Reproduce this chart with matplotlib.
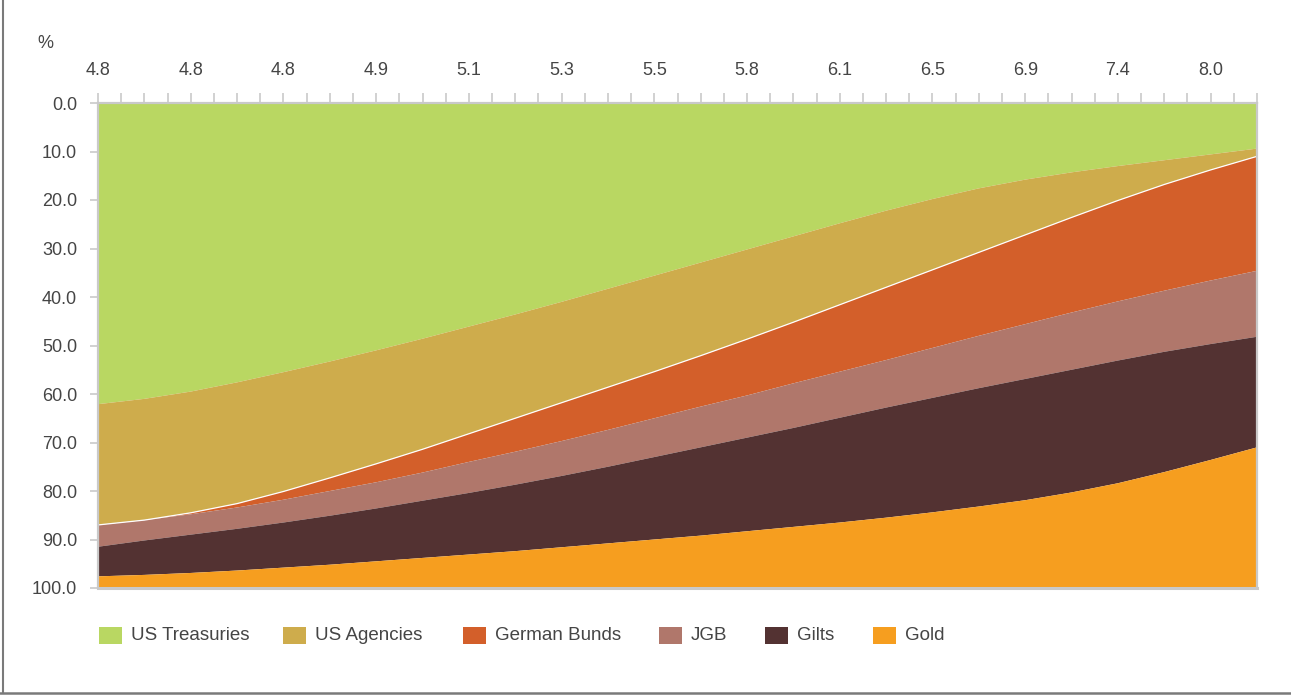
import numpy as np
import matplotlib
matplotlib.use("Agg")
import matplotlib.pyplot as plt
from matplotlib.patches import Rectangle
from matplotlib.lines import Line2D

plt.rcParams['font.family'] = ['Liberation Sans', 'DejaVu Sans']

# ---- data (portfolio weights, %) at every second point of the return axis ----
point_index = list(range(0, 51, 2))
tick_labels = ['4.8', '4.8', '4.8', '4.9', '5.1', '5.3', '5.5', '5.8', '6.1', '6.5', '6.9', '7.4', '8.0']

series_names = ['US Treasuries', 'US Agencies', 'German Bunds', 'JGB', 'Gilts', 'Gold']

us_treasuries = [62.1, 61.0, 59.5, 57.6, 55.5, 53.3, 51.0, 48.6, 46.1, 43.6, 41.0, 38.3, 35.6,
                 32.9, 30.2, 27.5, 24.8, 22.2, 19.8, 17.6, 15.8, 14.3, 13.0, 11.8, 10.6, 9.4]
us_agencies = [24.9, 25.0, 25.0, 25.0, 24.6, 24.0, 23.4, 22.8, 22.1, 21.4, 20.8, 20.3, 19.8,
               19.2, 18.5, 17.7, 16.8, 15.8, 14.6, 13.2, 11.4, 9.3, 7.1, 5.0, 3.2, 1.6]
german_bunds = [0.0, 0.0, 0.3, 0.8, 1.7, 2.7, 3.8, 4.8, 5.8, 6.9, 7.9, 8.8, 9.6,
                10.5, 11.6, 12.6, 13.8, 15.0, 16.1, 17.2, 18.4, 19.6, 20.8, 21.9, 22.8, 23.6]
jgb = [4.5, 4.2, 4.2, 4.4, 4.7, 5.1, 5.4, 5.8, 6.4, 6.8, 7.2, 7.6, 8.0,
       8.4, 8.7, 9.2, 9.5, 9.8, 10.3, 10.8, 11.3, 11.8, 12.2, 12.6, 13.1, 13.6]
gilts = [6.1, 7.1, 7.9, 8.6, 9.3, 10.1, 10.9, 11.8, 12.7, 13.7, 14.7, 15.8, 17.0,
         18.2, 19.3, 20.4, 21.6, 22.7, 23.6, 24.4, 25.0, 25.3, 25.3, 24.8, 23.9, 22.8]
gold = [2.4, 2.7, 3.1, 3.6, 4.2, 4.8, 5.5, 6.2, 6.9, 7.6, 8.4, 9.2, 10.0,
        10.8, 11.7, 12.6, 13.5, 14.5, 15.6, 16.8, 18.1, 19.7, 21.6, 23.9, 26.4, 29.0]

colors = ['#B9D762', '#CEAC4C', '#D35F2A', '#B0776B', '#533232', '#F69E1F']

# ---- figure ----
W, H = 1291, 695
fig = plt.figure(figsize=(W / 100, H / 100), dpi=100)
ax = fig.add_axes([98 / W, 1 - 588 / H, (1257 - 98) / W, (588 - 103) / H])

x = np.array(point_index)
values = [us_treasuries, us_agencies, german_bunds, jgb, gilts, gold]
ax.stackplot(x, *values, colors=colors, labels=series_names, linewidth=0)
# thin white edge on top of the German Bunds layer
top_bunds = np.array(us_treasuries) + np.array(us_agencies)
ax.plot(x, top_bunds, color='white', lw=0.9)

ax.set_xlim(0, 50)
ax.set_ylim(100, 0)

text_color = '#454545'
grid_gray = '#C9C9C9'

ax.xaxis.tick_top()
ax.set_xticks(range(0, 49, 4))
ax.set_xticklabels(tick_labels)
ax.set_xticks(range(0, 51), minor=True)
ax.tick_params(axis='x', which='both', direction='out', length=7, width=1.2,
               color=grid_gray, labelsize=13, labelcolor=text_color, pad=10)
ax.set_yticks(np.arange(0, 101, 10))
ax.set_yticklabels([f'{v:.1f}' for v in np.arange(0, 101, 10)])
ax.tick_params(axis='y', which='both', direction='out', length=6, width=1.2,
               color=grid_gray, labelsize=13, labelcolor=text_color, pad=9)

for side in ['left', 'top', 'right', 'bottom']:
    ax.spines[side].set_color(grid_gray)
    ax.spines[side].set_linewidth(1.6)
ax.spines['bottom'].set_linewidth(2.2)

fig.text(45 / W, 1 - 43 / H, '%', fontsize=13, color=text_color, ha='center', va='center')

# legend row (layout positions in pixels)
legend_left_px = [99, 283, 463, 659, 765, 873]
legend_y_px = 635
for name, col, lx in zip(series_names, colors, legend_left_px):
    fig.add_artist(Rectangle((lx / W, 1 - (legend_y_px + 8.5) / H), 23 / W, 17 / H,
                             transform=fig.transFigure, facecolor=col, edgecolor='none'))
    fig.text((lx + 32) / W, 1 - legend_y_px / H, name, fontsize=13.5, color=text_color,
             ha='left', va='center')

# outer frame lines (left and bottom)
fig.add_artist(Line2D([2.5 / W, 2.5 / W], [1 - 693 / H, 1.0], transform=fig.transFigure,
                      color='#7A7A7A', lw=1.5))
fig.add_artist(Line2D([0, 1], [1 - 692.5 / H, 1 - 692.5 / H], transform=fig.transFigure,
                      color='#7A7A7A', lw=1.8))

fig.savefig('out.png', dpi=100)
